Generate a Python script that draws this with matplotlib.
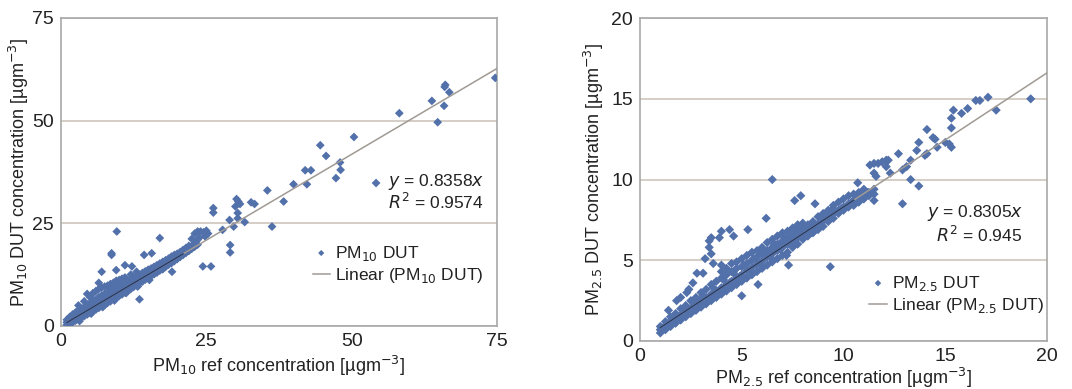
import numpy as np
import matplotlib
matplotlib.use('Agg')
import matplotlib.pyplot as plt

plt.rcParams['font.family'] = ['Liberation Sans', 'DejaVu Sans']

#----------------------------------
# DATA
#----------------------------------

# PM10 - dense band along the fit line
pm10_band_x = [1.0,1.0,1.0, 1.5,1.5,1.5, 2.0,2.0,2.0, 2.5,2.5,2.5, 3.0,3.0,3.0,3.0,
               3.5,3.5,3.5, 4.0,4.0,4.0,4.0, 4.5,4.5,4.5, 5.0,5.0,5.0,5.0, 5.5,5.5,5.5,5.5,
               6.0,6.0,6.0,6.0, 6.5,6.5,6.5,6.5, 7.0,7.0,7.0,7.0, 7.5,7.5,7.5,7.5,
               8.0,8.0,8.0,8.0, 8.5,8.5,8.5,8.5, 9.0,9.0,9.0,9.0, 9.5,9.5,9.5,9.5,
               10.0,10.0,10.0,10.0, 10.5,10.5,10.5,10.5, 11.0,11.0,11.0,11.0, 11.5,11.5,11.5,
               12.0,12.0,12.0,12.0, 12.5,12.5,12.5, 13.0,13.0,13.0,13.0, 13.5,13.5,13.5,
               14.0,14.0,14.0, 14.5,14.5,14.5, 15.0,15.0,15.0, 15.5,15.5,15.5,
               16.0,16.0,16.0, 16.5,16.5,16.5, 17.0,17.0,17.0, 17.5,17.5,17.5,
               18.0,18.0,18.0, 18.5,18.5,18.5, 19.0,19.0,19.0, 19.5,19.5,19.5,
               20.0,20.0,20.0, 20.5,20.5,20.5, 21.0,21.0,21.0, 21.5,21.5,21.5,
               22.0,22.0,22.0, 22.5,22.5, 23.0,23.0, 23.5,23.5,
               3.2,5.2,7.2,9.2,11.2,13.2,15.2]
pm10_band_y = [0.3,0.9,1.5, 0.6,1.3,2.2, 0.9,1.7,2.8, 1.3,2.1,3.3, 1.7,2.5,3.8,5.0,
               2.1,2.9,4.2, 2.4,3.3,4.6,6.0, 2.8,3.8,5.1, 3.2,4.2,5.6,7.0, 3.6,4.6,6.0,8.0,
               4.0,5.0,6.5,8.5, 4.4,5.4,7.0,9.0, 4.8,5.9,7.4,9.3, 5.2,6.3,7.8,9.6,
               5.6,6.7,8.2,9.8, 6.0,7.1,8.6,10.2, 6.5,7.5,9.0,10.5, 6.9,7.9,9.4,11.0,
               7.3,8.4,9.8,11.2, 7.7,8.8,10.2,11.5, 8.2,9.2,10.6,11.8, 8.6,9.6,11.0,
               9.0,10.0,11.4,12.5, 9.5,10.4,11.8, 9.9,10.9,12.2,13.2, 10.4,11.3,12.5,
               10.8,11.7,12.9, 11.3,12.1,13.3, 11.7,12.5,13.7, 12.2,12.9,14.0,
               12.6,13.4,14.4, 13.0,13.8,14.8, 13.5,14.2,15.2, 14.0,14.6,15.6,
               14.4,15.0,16.0, 14.9,15.5,16.4, 15.3,15.9,16.9, 15.8,16.3,17.3,
               16.3,16.7,17.6, 16.8,17.1,18.0, 17.3,17.6,18.5, 17.8,18.0,19.0,
               18.3,18.4,19.5, 18.8,19.5, 19.3,20.0, 19.8,21.0,
               1.2,3.0,4.6,6.2,8.0,9.6,11.2]

# PM10 - scattered points
pm10_out_x = [74.7, 66.1, 66.0, 66.8, 63.8, 65.9, 64.8, 58.2, 50.4, 44.6, 45.6, 48.0, 48.1, 47.3,
              42.0, 43.0, 42.3, 40.0, 54.2, 35.5, 38.3, 36.3, 31.6, 32.7, 33.3, 30.2, 30.5, 30.8,
              30.0, 30.4, 30.4, 29.7, 29.0, 27.8, 26.2, 26.2, 29.1, 29.1, 25.8, 24.4, 9.6, 8.7,
              8.7, 17.0, 14.3, 15.6, 12.2, 9.5, 7.0, 19.1, 17.5, 23.0, 23.5, 24.0, 24.5, 25.0,
              25.3, 24.8, 23.8, 22.5, 11.0, 6.5, 4.5, 13.5]
pm10_out_y = [60.4, 58.7, 58.2, 56.9, 54.8, 53.6, 49.6, 51.8, 46.0, 44.0, 41.4, 39.8, 38.0, 36.0,
              37.9, 37.9, 34.5, 34.5, 34.8, 33.0, 30.3, 24.2, 25.3, 30.1, 29.7, 30.9, 30.3, 29.7,
              29.1, 27.5, 26.2, 24.2, 25.8, 23.4, 28.7, 27.6, 19.7, 17.9, 14.5, 14.5, 23.0, 17.7,
              17.3, 21.4, 17.3, 17.7, 14.5, 13.6, 13.2, 13.2, 13.8, 22.5, 23.0, 23.0, 22.8, 23.2,
              22.5, 21.8, 21.5, 21.2, 14.8, 10.5, 7.8, 6.5]

# PM2.5 - dense band along the fit line
pm25_band_x = [1.0,1.0,1.0, 1.25,1.25,1.25, 1.5,1.5,1.5, 1.75,1.75,1.75, 2.0,2.0,2.0,
               2.25,2.25,2.25, 2.5,2.5,2.5, 2.75,2.75,2.75, 3.0,3.0,3.0, 3.25,3.25,3.25,
               3.5,3.5,3.5, 3.75,3.75,3.75, 4.0,4.0,4.0,4.0, 4.25,4.25,4.25,4.25,
               4.5,4.5,4.5,4.5, 4.75,4.75,4.75,4.75, 5.0,5.0,5.0,5.0, 5.25,5.25,5.25,5.25,
               5.5,5.5,5.5,5.5, 5.75,5.75,5.75,5.75, 6.0,6.0,6.0,6.0, 6.25,6.25,6.25,6.25,
               6.5,6.5,6.5,6.5, 6.75,6.75,6.75,6.75, 7.0,7.0,7.0,7.0, 7.25,7.25,7.25,7.25,
               7.5,7.5,7.5,7.5, 7.75,7.75,7.75,7.75, 8.0,8.0,8.0,8.0, 8.25,8.25,8.25,
               8.5,8.5,8.5, 8.75,8.75,8.75, 9.0,9.0,9.0, 9.25,9.25,9.25, 9.5,9.5,9.5,
               9.75,9.75,9.75, 10.0,10.0,10.0, 10.25,10.25,10.25, 10.5,10.5,10.5,
               10.75,10.75,10.75, 11.0,11.0,11.0, 11.25,11.25, 11.5,11.5,
               1.1,1.4,1.9,2.4,2.9,3.4,3.9,4.4,4.9,5.4,5.9,6.4,6.9,7.4,7.9,8.4,8.9,9.4,9.9,10.4,
               2.6,3.1,3.6,4.1,4.6,5.1,5.6,6.1,6.6,7.1,7.6]
pm25_band_y = [0.5,0.7,0.9, 0.7,0.95,1.2, 0.9,1.2,1.5, 1.1,1.4,1.7, 1.3,1.6,2.0,
               1.5,1.85,2.2, 1.7,2.05,2.5, 1.9,2.25,2.7, 2.1,2.5,3.0, 2.3,2.7,3.2,
               2.5,2.9,3.5, 2.7,3.1,3.7, 2.9,3.3,3.9,4.3, 3.1,3.5,4.1,4.5,
               3.3,3.7,4.3,4.8, 3.5,3.9,4.5,4.9, 3.7,4.1,4.6,5.1, 3.9,4.35,4.8,5.3,
               4.1,4.55,5.0,5.5, 4.3,4.75,5.2,5.6, 4.5,4.95,5.4,5.8, 4.7,5.2,5.6,6.1,
               4.9,5.4,5.8,6.3, 5.1,5.6,6.0,6.5, 5.3,5.8,6.2,6.7, 5.5,6.0,6.4,6.8,
               5.8,6.2,6.6,7.0, 6.0,6.4,6.8,7.2, 6.3,6.6,7.0,7.3, 6.5,6.85,7.2,
               6.7,7.05,7.4, 6.9,7.25,7.7, 7.1,7.5,7.9, 7.4,7.7,8.1, 7.6,7.9,8.4,
               7.9,8.1,8.6, 8.1,8.3,8.8, 8.3,8.5,9.0, 8.4,8.7,9.1,
               8.6,8.9,9.2, 8.8,9.1,9.4, 9.0,9.2, 9.1,9.4,
               0.8,1.1,1.5,1.9,2.3,2.7,3.1,3.6,4.0,4.4,4.8,5.2,5.7,6.1,6.5,6.9,7.3,7.8,8.2,8.6,
               2.4,2.8,3.3,3.8,4.2,4.7,5.1,5.5,6.0,6.4,6.9]

# PM2.5 - scattered points
pm25_out_x = [19.2, 17.5, 17.1, 16.7, 16.5, 16.1, 15.8, 15.4, 15.3, 15.3, 15.2, 15.3, 15.0, 14.1,
              14.4, 14.5, 14.6, 14.1, 14.0, 13.7, 13.6, 13.3, 13.7, 13.3, 12.9, 13.1, 12.9, 12.7,
              12.1, 12.2, 12.1, 12.3, 11.7, 11.5, 11.3, 11.9, 11.5, 11.6, 10.7, 11.5, 11.2, 6.5,
              7.9, 7.6, 8.6, 9.35, 6.2, 5.3, 4.0, 4.4, 3.5, 3.4, 3.4, 3.9, 4.6, 3.5, 3.6, 4.0,
              3.2, 2.8, 3.1, 2.6, 2.4, 2.3, 1.8, 2.0, 1.4, 5.0, 7.2, 5.8, 6.6, 7.3, 9.5]
pm25_out_y = [15.0, 14.3, 15.1, 14.9, 14.9, 14.4, 14.1, 14.3, 13.8, 13.2, 12.2, 12.0, 12.3, 13.1,
              12.6, 12.5, 12.0, 11.6, 11.5, 12.3, 11.8, 11.2, 9.6, 10.0, 8.5, 10.8, 10.6, 11.6,
              11.2, 11.2, 10.8, 10.4, 11.0, 11.0, 10.9, 11.1, 10.4, 10.2, 9.8, 8.7, 9.2, 10.0,
              9.0, 8.7, 8.5, 4.6, 7.6, 6.9, 6.8, 6.9, 6.4, 6.2, 5.8, 6.4, 6.5, 5.4, 4.8, 4.7,
              5.1, 4.2, 4.2, 3.6, 3.2, 3.0, 2.5, 2.7, 1.9, 2.8, 5.3, 3.5, 5.8, 4.7, 8.2]

pm10_slope, pm10_r2 = 0.8358, 0.9574
pm25_slope, pm25_r2 = 0.8305, 0.945

#----------------------------------
# PLOT
#----------------------------------
dot_color = '#5270aa'
grid_color = '#cdc6bd'
frame_color = '#a8a8a8'
text_color = '#222222'

fig = plt.figure(figsize=(10.72, 3.89), dpi=100)
ax1 = fig.add_axes([0.0569, 0.162, 0.4067, 0.792])
ax2 = fig.add_axes([0.597, 0.1234, 0.3797, 0.830])


def draw_panel(ax, bx, by, ox, oy, slope, r2, lim, step, sub, band_end, eq_pos, leg_pos, msize):
    x = np.array(bx + ox)
    y = np.array(by + oy)
    ax.scatter(x, y, marker='D', s=msize, color=dot_color, edgecolors='none', zorder=3,
               label='PM$_{%s}$ DUT' % sub)
    xl = np.array([min(x), lim])
    ax.plot(xl, slope * xl, color='#a09a94', lw=1.1, zorder=4,
            label='Linear (PM$_{%s}$ DUT)' % sub)
    # dark part of the trend line inside the dense band
    xb = np.array([min(x), band_end])
    ax.plot(xb, slope * xb, color='#243a66', lw=1.0, zorder=5)

    ax.set_xlim(0, lim)
    ax.set_ylim(0, lim)
    ticks = np.arange(0, lim + 0.1, step)
    ax.set_xticks(ticks)
    ax.set_yticks(ticks)
    ax.tick_params(length=0, labelsize=14, pad=5, colors=text_color)
    ax.yaxis.grid(True, color=grid_color, lw=1.2)
    ax.set_axisbelow(True)
    for s in ax.spines.values():
        s.set_color(frame_color)
        s.set_linewidth(1.2)

    ax.text(eq_pos[0], eq_pos[1], r'$\it{y}$ = %g$\it{x}$' % slope,
            transform=ax.transAxes, ha='right', va='center', fontsize=12.5, color=text_color)
    ax.text(eq_pos[0], eq_pos[1] - 0.067, r'$\it{R}^2$ = %g' % r2,
            transform=ax.transAxes, ha='right', va='center', fontsize=12.5, color=text_color)
    leg = ax.legend(loc='upper right', bbox_to_anchor=leg_pos, frameon=False, fontsize=12.5,
                    handlelength=1.0, handletextpad=0.3, borderaxespad=0, labelspacing=0.2,
                    markerscale=0.7)
    for t in leg.get_texts():
        t.set_color(text_color)


draw_panel(ax1, pm10_band_x, pm10_band_y, pm10_out_x, pm10_out_y, pm10_slope, pm10_r2,
           75, 25, '10', 21, (0.97, 0.468), (0.985, 0.29), 20)
draw_panel(ax2, pm25_band_x, pm25_band_y, pm25_out_x, pm25_out_y, pm25_slope, pm25_r2,
           20, 5, '2.5', 10.5, (0.94, 0.395), (1.01, 0.23), 22)

ax1.set_xlabel('PM$_{10}$ ref concentration [µgm$^{-3}$]', fontsize=13, labelpad=3,
               color=text_color)
ax1.set_ylabel('PM$_{10}$ DUT concentration [µgm$^{-3}$]', fontsize=13, labelpad=1,
               color=text_color)
ax2.set_xlabel('PM$_{2.5}$ ref concentration [µgm$^{-3}$]', fontsize=13, labelpad=1,
               color=text_color)
ax2.set_ylabel('PM$_{2.5}$ DUT concentration [µgm$^{-3}$]', fontsize=13, labelpad=4,
               color=text_color)

plt.savefig('out.png', dpi=100)
